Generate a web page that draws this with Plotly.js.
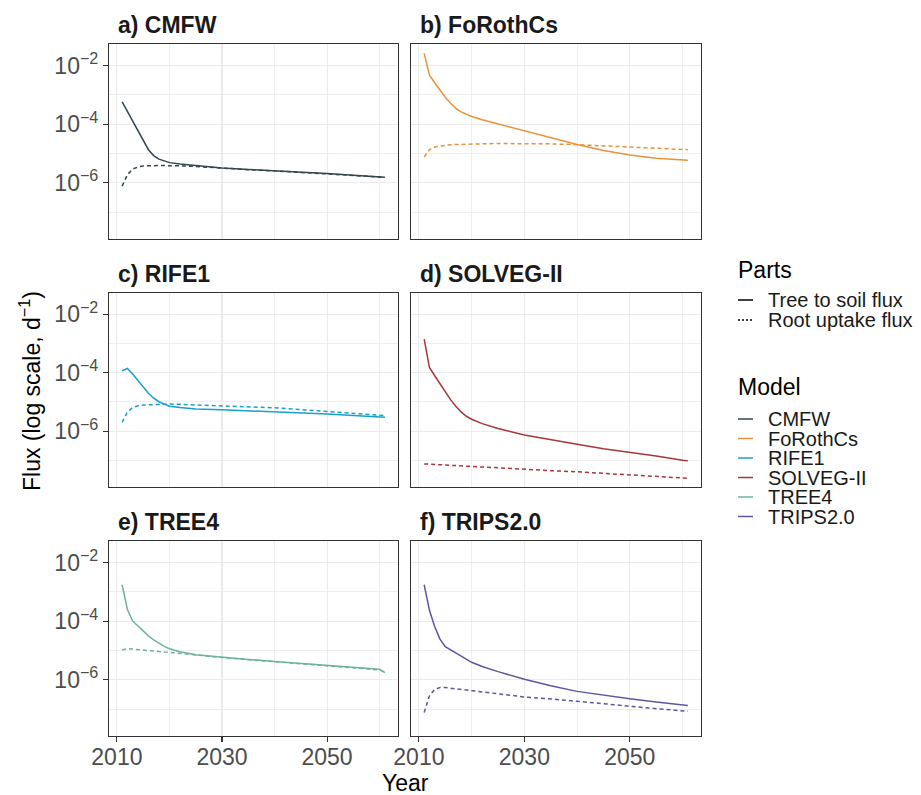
<!DOCTYPE html>
<html><head><meta charset="utf-8">
<script src="https://cdn.plot.ly/plotly-3.0.1.min.js"></script>
<style>html,body{margin:0;padding:0;background:#fff;}#chart{width:921px;height:795px;}</style>
</head><body><div id="chart"></div>
<script>
const years = [2011,2012,2013,2014,2015,2016,2017,2018,2019,2020,2022,2025,2030,2035,2040,2045,2050,2055,2060,2061];
const models = ['CMFW','FoRothCs','RIFE1','SOLVEG-II','TREE4','TRIPS2.0'];
const panelLetters = ['a)','b)','c)','d)','e)','f)'];
const modelColors = ['#34474F','#E8933A','#17A2CC','#A8363A','#6DB39B','#5C58A0'];
const parts = ['Tree to soil flux','Root uptake flux'];
const partDash = ['solid','4px,3px'];
const xTicks = [2010,2030,2050];
const xMinor = [2020,2040,2060];
const yTicks = [1e-2,1e-4,1e-6];
const yTickText = ['10<sup>\u22122</sup>','10<sup>\u22124</sup>','10<sup>\u22126</sup>'];
const yMinor = [1e-3,1e-5,1e-7];

const cmfwTree  = [5.75e-4,2.69e-4,1.23e-4,5.62e-5,2.57e-5,1.35e-5,8.5e-6,6.46e-6,5.62e-6,4.9e-6,4.37e-6,3.89e-6,3.24e-6,2.88e-6,2.63e-6,2.34e-6,2.09e-6,1.82e-6,1.58e-6,1.55e-6];
const cmfwRoot  = [7.8e-7,1.9e-6,2.95e-6,3.47e-6,3.8e-6,3.89e-6,3.89e-6,3.89e-6,3.89e-6,3.89e-6,3.8e-6,3.63e-6,3.16e-6,2.82e-6,2.57e-6,2.29e-6,2.04e-6,1.78e-6,1.58e-6,1.55e-6];
const foroTree  = [2.57e-2,4.68e-3,2.57e-3,1.45e-3,8.3e-4,5.13e-4,3.47e-4,2.63e-4,2.14e-4,1.82e-4,1.41e-4,1.02e-4,6.17e-5,3.55e-5,2.04e-5,1.26e-5,8.9e-6,6.9e-6,6.0e-6,5.9e-6];
const foroRoot  = [7.6e-6,1.35e-5,1.66e-5,1.82e-5,1.9e-5,2.0e-5,2.04e-5,2.09e-5,2.09e-5,2.09e-5,2.14e-5,2.19e-5,2.19e-5,2.14e-5,2.0e-5,1.82e-5,1.62e-5,1.48e-5,1.38e-5,1.35e-5];
const rifeTree  = [1.17e-4,1.41e-4,9.1e-5,5.5e-5,3.24e-5,2.0e-5,1.35e-5,1.02e-5,8.5e-6,7.2e-6,6.5e-6,5.75e-6,5.4e-6,5.0e-6,4.7e-6,4.27e-6,3.89e-6,3.47e-6,3.09e-6,3.02e-6];
const rifeRoot  = [2.0e-6,4.57e-6,6.46e-6,7.4e-6,7.9e-6,8.1e-6,8.3e-6,8.5e-6,8.5e-6,8.5e-6,8.3e-6,7.9e-6,7.4e-6,6.9e-6,6.3e-6,5.5e-6,4.8e-6,4.07e-6,3.47e-6,3.39e-6];
const solvTree  = [1.41e-3,1.51e-4,7.9e-5,4.17e-5,2.19e-5,1.2e-5,7.2e-6,4.57e-6,3.24e-6,2.57e-6,1.82e-6,1.23e-6,7.4e-7,5.0e-7,3.55e-7,2.51e-7,1.91e-7,1.41e-7,1.02e-7,9.8e-8];
const solvRoot  = [7.59e-8,7.41e-8,7.24e-8,7.08e-8,6.92e-8,6.76e-8,6.61e-8,6.46e-8,6.31e-8,6.17e-8,5.89e-8,5.5e-8,5.01e-8,4.47e-8,4.07e-8,3.63e-8,3.24e-8,2.82e-8,2.51e-8,2.45e-8];
const treeTree  = [1.74e-3,2.51e-4,1.02e-4,6.76e-5,4.57e-5,3.16e-5,2.29e-5,1.74e-5,1.38e-5,1.15e-5,9.1e-6,7.2e-6,5.9e-6,5.0e-6,4.27e-6,3.63e-6,3.16e-6,2.69e-6,2.29e-6,1.78e-6];
const treeRoot  = [1.05e-5,1.17e-5,1.12e-5,1.07e-5,1.05e-5,1.0e-5,9.8e-6,9.3e-6,8.9e-6,8.7e-6,7.9e-6,7.1e-6,5.75e-6,4.9e-6,4.07e-6,3.47e-6,2.95e-6,2.51e-6,2.19e-6,1.82e-6];
const tripsTree = [1.74e-3,2.34e-4,6.46e-5,2.45e-5,1.35e-5,1.05e-5,8.3e-6,6.6e-6,5.1e-6,3.98e-6,2.88e-6,1.91e-6,1.05e-6,6.3e-7,4.07e-7,3.02e-7,2.29e-7,1.78e-7,1.41e-7,1.35e-7];
const tripsRoot = [7.8e-8,2.88e-7,4.8e-7,5.5e-7,5.5e-7,5.25e-7,5.0e-7,4.8e-7,4.47e-7,4.27e-7,3.98e-7,3.39e-7,2.63e-7,2.24e-7,1.91e-7,1.55e-7,1.26e-7,1.05e-7,8.9e-8,8.5e-8];

const treeSeries = [cmfwTree, foroTree, rifeTree, solvTree, treeTree, tripsTree];
const rootSeries = [cmfwRoot, foroRoot, rifeRoot, solvRoot, treeRoot, tripsRoot];

const W = 921, H = 795;
const px = x => x / W;
const py = y => 1 - y / H;
const colDom = [[109,398],[411,701]];
const rowDom = [[44,239],[293,487],[541,736]];
const FONT = 'Liberation Sans, Arial, sans-serif';

const traces = [];
const layout = {
  width: W, height: H, margin: {l:0,r:0,t:0,b:0},
  paper_bgcolor: '#ffffff', plot_bgcolor: '#ffffff',
  showlegend: false, font: {family: FONT, color: '#000'},
  annotations: [], shapes: []
};

models.forEach((m, i) => {
  const suf = i === 0 ? '' : String(i + 1);
  const col = i % 2, row = Math.floor(i / 2);
  const common = {x: years, mode: 'lines', xaxis: 'x' + suf, yaxis: 'y' + suf, name: m, hoverinfo: 'skip'};
  traces.push(Object.assign({}, common, {y: rootSeries[i], line: {color: modelColors[i], width: 1.5, dash: partDash[1]}}));
  traces.push(Object.assign({}, common, {y: treeSeries[i], line: {color: modelColors[i], width: 1.5, dash: partDash[0]}}));
  const isBottom = row === 2, isLeft = col === 0;
  layout['xaxis' + suf] = {
    domain: [px(colDom[col][0]), px(colDom[col][1])], anchor: 'y' + suf,
    range: [2008.5, 2063.5], tickmode: 'array', tickvals: xTicks,
    showticklabels: isBottom, ticks: isBottom ? 'outside' : '', ticklen: 5, tickwidth: 1.1, tickcolor: '#333333',
    ticklabelstandoff: -5,
    tickfont: {size: 23, color: '#4D4D4D', family: FONT},
    showgrid: true, gridcolor: '#EBEBEB', gridwidth: 1.1,
    minor: {tickmode: 'array', tickvals: xMinor, showgrid: true, gridcolor: '#EDEDED', gridwidth: 0.9, ticks: ''},
    showline: true, mirror: true, linecolor: '#333333', linewidth: 1.1, zeroline: false, fixedrange: true
  };
  layout['yaxis' + suf] = {
    domain: [py(rowDom[row][1]), py(rowDom[row][0])], anchor: 'x' + suf,
    type: 'log', range: [-7.91, -1.27], tickmode: 'array', tickvals: yTicks, ticktext: yTickText,
    showticklabels: isLeft, ticks: isLeft ? 'outside' : '', ticklen: 5, tickwidth: 1.1, tickcolor: '#333333',
    tickfont: {size: 23, color: '#4D4D4D', family: FONT},
    showgrid: true, gridcolor: '#EBEBEB', gridwidth: 1.1,
    minor: {tickmode: 'array', tickvals: yMinor, showgrid: true, gridcolor: '#EDEDED', gridwidth: 0.9, ticks: ''},
    showline: true, mirror: true, linecolor: '#333333', linewidth: 1.1, zeroline: false, fixedrange: true
  };
  layout.annotations.push({
    text: '<b>' + panelLetters[i] + ' ' + m + '</b>', xref: 'paper', yref: 'paper',
    x: px(colDom[col][0] + 7), y: py(rowDom[row][0] - 19), xanchor: 'left', yanchor: 'middle',
    showarrow: false, font: {size: 23, color: '#1A1A1A', family: FONT}
  });
});

// axis titles
layout.annotations.push({text: 'Year', xref: 'paper', yref: 'paper', x: px(405), y: py(783),
  xanchor: 'center', yanchor: 'middle', showarrow: false, font: {size: 23, color: '#000', family: FONT}});
layout.annotations.push({text: 'Flux (log scale, d<sup>\u22121</sup>)', xref: 'paper', yref: 'paper', x: px(30), y: py(391),
  xanchor: 'center', yanchor: 'middle', textangle: -90, showarrow: false, font: {size: 23, color: '#000', family: FONT}});

// legends (Parts, Model)
const legKeyX0 = 738, legKeyX1 = 753, legTextX = 766, legTitleX = 736;
layout.annotations.push({text: 'Parts', xref: 'paper', yref: 'paper', x: px(legTitleX), y: py(270),
  xanchor: 'left', yanchor: 'middle', showarrow: false, font: {size: 23, color: '#000', family: FONT}});
parts.forEach((p, k) => {
  const yc = 300 + k * 20;
  layout.shapes.push({type: 'line', xref: 'paper', yref: 'paper', x0: px(legKeyX0), x1: px(legKeyX1), y0: py(yc), y1: py(yc),
    line: {color: '#000', width: 1.5, dash: k === 0 ? 'solid' : '2px,2px'}});
  layout.annotations.push({text: p, xref: 'paper', yref: 'paper', x: px(legTextX), y: py(yc),
    xanchor: 'left', yanchor: 'middle', showarrow: false, font: {size: 20, color: '#1A1A1A', family: FONT}});
});
layout.annotations.push({text: 'Model', xref: 'paper', yref: 'paper', x: px(legTitleX), y: py(387),
  xanchor: 'left', yanchor: 'middle', showarrow: false, font: {size: 23, color: '#000', family: FONT}});
models.forEach((m, k) => {
  const yc = 419 + k * 19.5;
  layout.shapes.push({type: 'line', xref: 'paper', yref: 'paper', x0: px(legKeyX0), x1: px(legKeyX1), y0: py(yc), y1: py(yc),
    line: {color: modelColors[k], width: 1.5}});
  layout.annotations.push({text: m, xref: 'paper', yref: 'paper', x: px(legTextX), y: py(yc),
    xanchor: 'left', yanchor: 'middle', showarrow: false, font: {size: 20, color: '#1A1A1A', family: FONT}});
});

Plotly.newPlot('chart', traces, layout, {staticPlot: true, displayModeBar: false});
</script>
</body></html>
